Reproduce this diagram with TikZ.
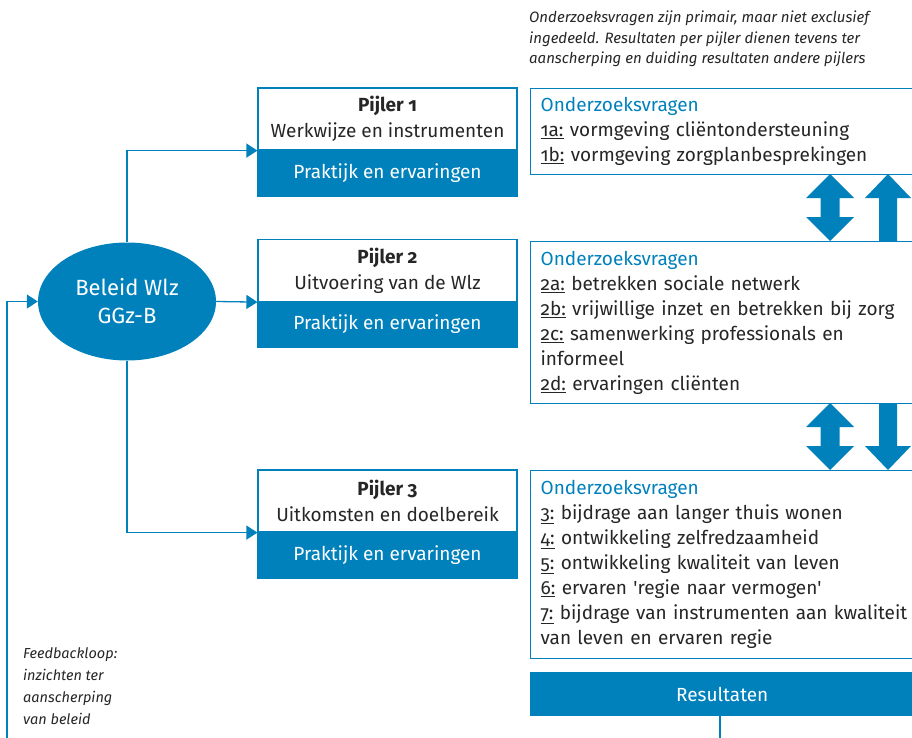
\documentclass[tikz,border=0pt]{standalone}
\usepackage{fontspec}
\setmainfont{Fira Sans}[Numbers=OldStyle]
\usetikzlibrary{shapes.geometric, arrows.meta, positioning}
\definecolor{rijkblauw}{RGB}{0, 129, 188}
\definecolor{tekstgrijs}{RGB}{38, 38, 38}
\tikzstyle{pijlerkop} = [rectangle, minimum width=259pt, minimum height=62pt, inner sep=0pt,
                         align=center, draw=rijkblauw, fill=white, line width=1.2pt,
                         text=tekstgrijs, font=\fontsize{19}{26}\selectfont]
\tikzstyle{pijlervoet} = [rectangle, minimum width=259pt, minimum height=46pt, inner sep=0pt,
                          draw=rijkblauw, fill=rijkblauw, line width=1.2pt,
                          text=white, font=\fontsize{19}{20}\selectfont]
\tikzstyle{vragen} = [rectangle, anchor=north west, text width=380pt,
                      inner xsep=10pt, inner ysep=0pt, align=left, draw=rijkblauw, fill=white,
                      line width=1.2pt, text=tekstgrijs, font=\fontsize{19}{25}\selectfont]
\tikzstyle{notitie} = [anchor=north west, align=left, inner sep=0pt, text=tekstgrijs]
\tikzstyle{arrow} = [-{Triangle[length=11pt, width=14pt]}, line width=1.3pt, rijkblauw]
\tikzstyle{blok} = [fill=rijkblauw]

\begin{document}
\begin{tikzpicture}[x=1pt, y=-1pt]
\useasboundingbox (0, 0) rectangle (912, 738);
\clip (0, 0) rectangle (912, 738);

% Note top right
\node[notitie, font=\itshape\fontsize{15}{20.5}\selectfont] (noot) at (529, 11) {
    Onderzoeksvragen zijn primair, maar niet exclusief\\
    ingedeeld. Resultaten per pijler dienen tevens ter\\
    aanscherping en duiding resultaten andere pijlers
};

% Beleid
\node[ellipse, minimum width=178pt, minimum height=118pt, inner sep=0pt, fill=rijkblauw,
      text=white, align=center, font=\fontsize{22}{28}\selectfont] (beleid) at (127, 301.5) {
    Beleid Wlz\\GGz-B
};

% Pijlers
\node[pijlerkop] (p1kop) at (387.5, 119) {\textbf{Pijler 1}\\Werkwijze en instrumenten};
\node[pijlervoet] (p1voet) at (387.5, 173) {Praktijk en ervaringen};
\node[pijlerkop] (p2kop) at (387.5, 270.5) {\textbf{Pijler 2}\\Uitvoering van de Wlz};
\node[pijlervoet] (p2voet) at (387.5, 324.5) {Praktijk en ervaringen};
\node[pijlerkop] (p3kop) at (387.5, 501) {\textbf{Pijler 3}\\Uitkomsten en doelbereik};
\node[pijlervoet] (p3voet) at (387.5, 555) {Praktijk en ervaringen};

% Onderzoeksvragen
\node[vragen, minimum height=86pt] (v1) at (530, 88) {
    \textcolor{rijkblauw}{Onderzoeksvragen}\\
    \underline{1a:} vormgeving cliëntondersteuning\\
    \underline{1b:} vormgeving zorgplanbesprekingen
};
\node[vragen, minimum height=162pt] (v2) at (530, 241) {
    \textcolor{rijkblauw}{Onderzoeksvragen}\\
    \underline{2a:} betrekken sociale netwerk\\
    \underline{2b:} vrijwillige inzet en betrekken bij zorg\\
    \underline{2c:} samenwerking professionals en\\
    informeel\\
    \underline{2d:} ervaringen cliënten
};
\node[vragen, minimum height=188pt] (v3) at (530, 470) {
    \textcolor{rijkblauw}{Onderzoeksvragen}\\
    \underline{3:} bijdrage aan langer thuis wonen\\
    \underline{4:} ontwikkeling zelfredzaamheid\\
    \underline{5:} ontwikkeling kwaliteit van leven\\
    \underline{6:} ervaren \textquotesingle regie naar vermogen\textquotesingle\\
    \underline{7:} bijdrage van instrumenten aan kwaliteit\\
    van leven en ervaren regie
};
\node[rectangle, anchor=north west, minimum width=384pt, minimum height=44pt, fill=rijkblauw,
      text=white, font=\fontsize{19}{20}\selectfont] (res) at (530, 672) {Resultaten};

% Feedback note
\node[notitie, font=\itshape\fontsize{14.5}{22}\selectfont] (feedback) at (23, 647) {
    Feedbackloop:\\
    inzichten ter\\
    aanscherping\\
    van beleid
};

% Free ends at the bottom
\coordinate (fbbegin) at (7, 745);
\coordinate (resend) at (720, 745);

% Arrows
\draw[arrow] (beleid.north) |- (p1kop.south west);
\draw[arrow] (beleid.east) -- (p2kop.south west);
\draw[arrow] (beleid.south) |- (p3kop.south west);
\draw[arrow] (fbbegin) |- (beleid.west);
\draw[rijkblauw, line width=1.3pt] (res.south -| resend) -- (resend);

% Block arrows between the question boxes
\fill[blok] (830, 174) -- (854, 198) -- (839.5, 198) -- (839.5, 217) -- (854, 217) -- (830, 241)
    -- (806, 217) -- (820.5, 217) -- (820.5, 198) -- (806, 198) -- cycle;
\fill[blok] (888, 174) -- (911, 198) -- (897, 198) -- (897, 241) -- (879, 241) -- (879, 198)
    -- (865, 198) -- cycle;
\fill[blok] (830, 403) -- (854, 427) -- (839.5, 427) -- (839.5, 446) -- (854, 446) -- (830, 470)
    -- (806, 446) -- (820.5, 446) -- (820.5, 427) -- (806, 427) -- cycle;
\fill[blok] (879, 403) -- (897, 403) -- (897, 446) -- (911, 446) -- (888, 470) -- (865, 446)
    -- (879, 446) -- cycle;

\end{tikzpicture}
\end{document}
